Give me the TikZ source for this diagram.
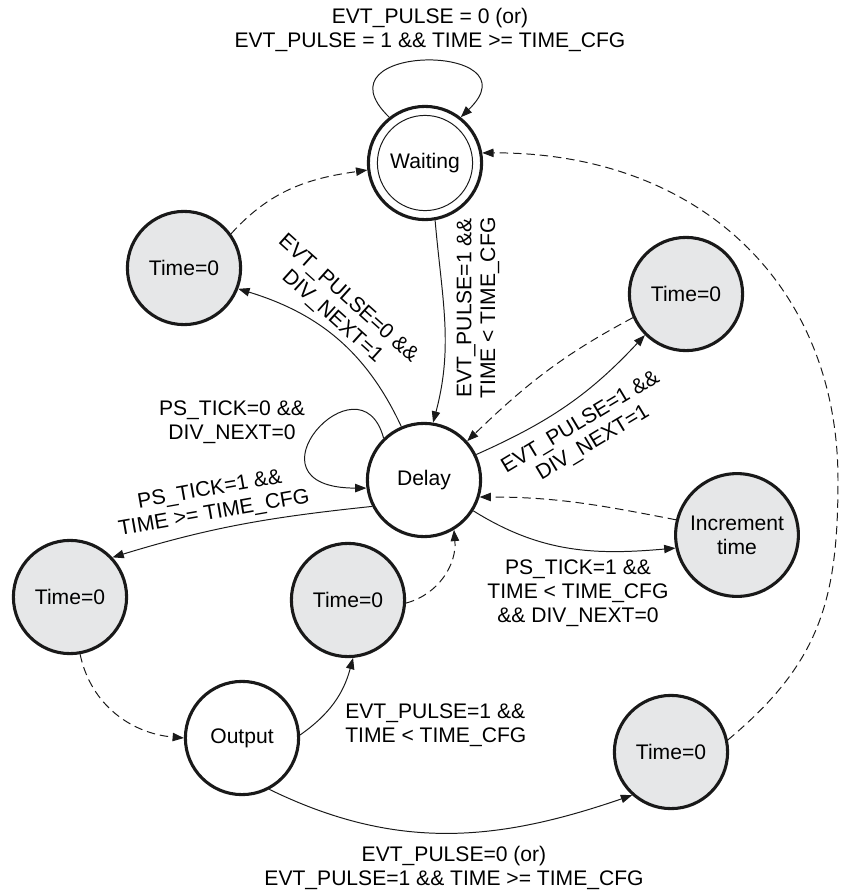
\documentclass[tikz,border=0pt]{standalone}
\usepackage{fontspec}
\setmainfont{Liberation Sans}
\usetikzlibrary{arrows.meta, positioning}
\definecolor{stateline}{RGB}{25,25,25}
\definecolor{resetfill}{RGB}{230,231,232}
\tikzset{
  state/.style={circle, draw=stateline, line width=2.2pt, fill=white,
                minimum size=2.83cm, inner sep=0pt, align=center},
  reset/.style={state, fill=resetfill},
  cond/.style={align=center, inner sep=1pt},
  arrow/.style={-{Triangle[length=8pt, width=6pt]}, line width=0.7pt, color=stateline},
  dasharrow/.style={arrow, dash pattern=on 6pt off 3.5pt},
}

\begin{document}
\begin{tikzpicture}[font=\fontsize{15}{17}\selectfont]
  \useasboundingbox (0,0) rectangle (21,-22.3);
  \node[state] (wait) at (10.625,-4.075) {Waiting};
  \draw[line width=0.7pt, stateline] (wait.center) circle (1.19);
  \node[state] (delay) at (10.6,-12) {Delay};
  \node[state] (output) at (6.05,-18.45) {Output};
  \node[reset] (zeroA) at (4.6,-6.7) {Time=0};
  \node[reset] (zeroB) at (17.15,-7.35) {Time=0};
  \node[reset, minimum size=3.07cm] (incr) at (18.425,-13.375) {Increment\\time};
  \node[reset] (zeroC) at (1.75,-14.925) {Time=0};
  \node[reset] (zeroD) at (8.7,-15) {Time=0};
  \node[reset] (zeroE) at (16.775,-18.8) {Time=0};

  \draw[arrow] (wait.128) .. controls +(136:2.7) and +(44:2.7) .. (wait.52);
  \node[cond] (lwait) at (10.75,-0.75) {EVT\_PULSE = 0 (or)\\EVT\_PULSE = 1 \&\& TIME >= TIME\_CFG};
  \draw[arrow] (wait.280) to[out=-85, in=75] (delay.81);
  \node[cond, rotate=90] (lwd) at (11.95,-7.7) {EVT\_PULSE=1 \&\&\\TIME < TIME\_CFG};
  \draw[arrow] (delay.113) to[out=115, in=-17] (zeroA.-21);
  \node[cond, rotate=-42] (lda) at (8.5,-7.7) {EVT\_PULSE=0 \&\&\\DIV\_NEXT=1};
  \draw[dasharrow] (zeroA.36) to[out=48, in=188] (wait.187);
  \draw[arrow] (delay.134) .. controls +(105:2.25) and +(180:3.25) .. (delay.188);
  \node[cond] (lself) at (5.8,-10.55) {PS\_TICK=0 \&\&\\DIV\_NEXT=0};
  \draw[arrow] (delay.207) to[out=186, in=17] (zeroC.43);
  \node[cond, rotate=10] (ldc) at (5.3,-12.55) {PS\_TICK=1 \&\&\\TIME >= TIME\_CFG};
  \draw[arrow] (delay.26) to[out=24, in=227] (zeroB.225);
  \node[cond, rotate=31] (ldb) at (14.675,-10.825) {EVT\_PULSE=1 \&\&\\DIV\_NEXT=1};
  \draw[dasharrow] (zeroB.204) to[out=208, in=44] (delay.42);
  \draw[arrow] (delay.-32) to[out=-32, in=185] (incr.192);
  \node[cond] (ldi) at (14.45,-14.825) {PS\_TICK=1 \&\&\\TIME < TIME\_CFG\\\&\& DIV\_NEXT=0};
  \draw[dasharrow] (incr.166) to[out=169, in=0] (delay.-17);
  \draw[dasharrow] (zeroC.-80) to[out=-78, in=175] (output.180);
  \draw[arrow] (output.3) to[out=35, in=255] (zeroD.-85);
  \node[cond, align=left, anchor=west] (lod) at (8.59,-18.125) {EVT\_PULSE=1 \&\&\\TIME < TIME\_CFG};
  \draw[dasharrow] (zeroD.-3) to[out=15, in=-85] (delay.-59);
  \draw[arrow] (output.-62) to[out=-26, in=199] (zeroE.228);
  \node[cond] (loe) at (11.35,-21.7) {EVT\_PULSE=0 (or)\\EVT\_PULSE=1 \&\& TIME >= TIME\_CFG};
  \coordinate (rim) at (20.95,-12);
  \draw[dasharrow] (zeroE.12) .. controls (20.5,-16.575) and (20.95,-15) .. (rim)
                   .. controls (20.95,-7.1) and (17.45,-3.8) .. (wait.10);
\end{tikzpicture}
\end{document}
